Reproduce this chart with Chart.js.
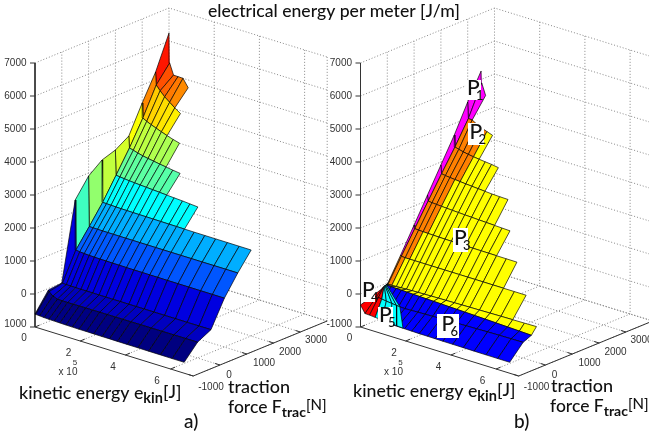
<!DOCTYPE html>
<html><head><meta charset="utf-8">
<style>html,body{margin:0;padding:0;background:#fff;overflow:hidden}canvas{display:block}</style>
<script src="https://cdn.jsdelivr.net/npm/chart.js@4"></script>
</head><body><canvas id="c" width="649" height="441"></canvas>
<script>
// ---------- data (kinetic energy in 1e5 J, force in N, electrical energy in J/m) ----------
const kineticEnergy = [0,.03,.2,.4,.62,.85,1.1,1.37,1.65,1.95,2.27,2.6,2.97,3.3,3.65,4.08,4.55,5.03,5.55,6.07,6.6];
const forceA = [-1000,-500,0,500,1000,1500,2000,2500,3000,3500,4000];
const energyA = [
 [-606,-610,-620,-630,-635,-640,-645,-650,-652,-655,-655,-658,-660,-660,-662,-664,-665,-667,-668,-670,-670],
 [-45,-90,-190,-240,-245,-245,-245,-240,-240,-240,-238,-238,-236,-235,-235,-233,-232,-230,-230,-228,-227],
 [0,-4,-8,-10,-12,-12,-13,-13,-14,-14,-14,-15,-15,-15,-15,-15,-15,-15,-15,-15,-15],
 [2348,839,820,810,800,795,790,790,785,785,780,780,780,778,778,776,776,775,775,774,773],
 [2909,1385,1380,1378,1376,1375,1374,1373,1372,1372,1371,1371,1371,1370,1370,1370,1370,1370,1370,1370,1370],
 [3227,1950,1945,1940,1935,1930,1928,1925,1922,1920,1918,1915,1912,1910,1908,1906,1905,1904,1903,1901,1900],
 [3364,2606,2590,2575,2560,2548,2535,2522,2510,2495,2480,2465,2450,2430,2412],
 [3621,3264,3230,3190,3150,3120,3090,3060,3030,3000,2970],
 [4455,4006,3940,3880,3820,3760,3700,3640,3588],
 [5227,4839,4700,4560,4440,4320,4203],
 [6242,5340,5010,5005,5000,4763]
];
const forceB = [-1000,-500,-190,0,500,1000,1500,2000,2500,3000,3500];
const energyB = [
 [null,null,null,null,null,null,-628,-632,-636,-640,-645,-650,-652,-655,-658,-660,-662,-665,-667,-668,-670],
 [null,null,-230,-250,-270,-290,-310,-318,-312,-305,-298,-292,-286,-280,-272,-264,-256,-248,-240,-236,-233],
 [-103,-80,39,35,30,25,20,12,5,-3,-10,-18,-27,-35,-43,-53,-65,-78,-92,-106,-121],
 [-40,-38,-30,-22,-15,-8,0,5,10,15,20,25,30,35,40,45,52,58,65,72,79],
 [682,650,640,640,640,640,640,640,640,640,640,640,640,640,640,640,640,640,640],
 [1424,1320,1310,1305,1300,1295,1290,1285,1282,1279,1276,1273,1271,1269,1267,1266,1264],
 [2167,1990,1975,1965,1955,1945,1935,1925,1915,1905,1895,1885,1875,1865,1855],
 [2909,2650,2630,2615,2600,2585,2570,2555,2540,2525,2510,2500,2494],
 [3651,3294,3260,3225,3195,3170,3150,3130,3110,3076],
 [4485,3990,3982,3900,3830,3770,3709],
 [5258,4900,4558]
];
// regions of panel b: how many columns of each strip are orange (P2)
const orangeColumns = [0,0,0,2,3,4,4,5,5,0];
const blueStrips = [0,1];
const p4Force = [-1000,-500,-190,0];
const p4Kinetic = [[0,.2,.4,.65],[0,.1,.2,.35],[0,.03,.05,.08],[0,0,0,0]];
const p4Energy = [[-333,-549,-555,-570],[-197,-240,-230,-245],[-103,-80,-60,-30],[-40,-40,-40,-40]];
const p5Force = [-1000,-500,-190,0];
const p5Kinetic = [[.65,.95,1.3,1.6,1.88],[.35,.55,.8,1,1.15],[.08,.1,.13,.16,.2],[0,0,0,0,0]];
const p5Energy = [[-570,-586,-606,-622,-636],[-245,-268,-285,-302,-312],[-30,-10,10,25,39],[-40,-40,-40,-40,-40]];
const energyTicks = [-1000,0,1000,2000,3000,4000,5000,6000,7000];
const kineticTicks = [0,2,4,6];
const forceTicks = [-1000,0,1000,2000,3000];

// ---------- view ----------
const PANEL_A = 0, PANEL_B = 325.5;
const ORIGIN = {x:35, y:327};
const KIN = {max:7, dx:22.6, dy:7};
const FOR = {min:-1000, max:4000, dx:.0268, dy:.011};
const ENE = {min:-1000, max:7000, dy:.033};
function project(off, e, f, z){
  return {
    x: off + ORIGIN.x + e*KIN.dx + (f-FOR.min)*FOR.dx,
    y: ORIGIN.y + e*KIN.dy - (f-FOR.min)*FOR.dy - (z-ENE.min)*ENE.dy
  };
}
function jet(v){
  const t = Math.max(0, Math.min(1, (v+670)/(6242+670)));
  const c = x => Math.round(255*Math.max(0, Math.min(1, x)));
  return `rgb(${c(1.5-Math.abs(4*t-3))},${c(1.5-Math.abs(4*t-2))},${c(1.5-Math.abs(4*t-1))})`;
}
const paint = [];
function face(pts, color){
  paint.push({data:[...pts, pts[0]], showLine:true, pointRadius:0, borderColor:'rgba(0,0,0,.85)', borderWidth:.8, faceColor:color, clip:false, tension:0});
}
function stroke(pts, color, width, dash){
  paint.push({data:pts, showLine:true, pointRadius:0, borderColor:color, borderWidth:width, borderDash:dash||[], clip:false, tension:0});
}
function frame(off){
  const dot = [1,2], grey = '#6a6a6a';
  for(const z of energyTicks){
    stroke([project(off,0,FOR.min,z),project(off,0,FOR.max,z),project(off,KIN.max,FOR.max,z)],grey,.8,dot);
  }
  for(const f of forceTicks.concat(FOR.max)){
    if(f===FOR.min) continue;
    stroke([project(off,KIN.max,f,ENE.min),project(off,0,f,ENE.min),project(off,0,f,ENE.max)],grey,.8,dot);
  }
  for(const e of kineticTicks.concat(KIN.max)){
    if(e===0) continue;
    stroke([project(off,e,FOR.min,ENE.min),project(off,e,FOR.max,ENE.min),project(off,e,FOR.max,ENE.max)],grey,.8,dot);
  }
  const ax = '#333';
  stroke([project(off,0,FOR.min,ENE.max),project(off,0,FOR.min,ENE.min),project(off,KIN.max,FOR.min,ENE.min),project(off,KIN.max,FOR.max,ENE.min)],ax,1);
  for(const z of energyTicks){
    const p = project(off,0,FOR.min,z);
    stroke([{x:p.x-5,y:p.y},p],ax,1);
  }
  for(const e of kineticTicks){ stroke([project(off,e,FOR.min,ENE.min),project(off,e,FOR.min+170,ENE.min)],ax,1); }
  for(const f of forceTicks){ stroke([project(off,KIN.max,f,ENE.min),project(off,KIN.max-.22,f,ENE.min)],ax,1); }
}
function surface(off, forces, energy, colorOf){
  for(let j=forces.length-2;j>=0;j--){
    const up = energy[j+1], lo = energy[j];
    for(let i=0;i<up.length-1;i++){
      if(lo[i]==null||up[i]==null||lo[i+1]==null||up[i+1]==null) continue;
      face([project(off,kineticEnergy[i],forces[j],lo[i]),project(off,kineticEnergy[i+1],forces[j],lo[i+1]),
            project(off,kineticEnergy[i+1],forces[j+1],up[i+1]),project(off,kineticEnergy[i],forces[j+1],up[i])],colorOf(j,i,lo[i]));
    }
  }
}
function patch(off, forces, kin, ene, color){
  for(let j=forces.length-2;j>=0;j--){
    for(let i=0;i<kin[j].length-1;i++){
      face([project(off,kin[j][i],forces[j],ene[j][i]),project(off,kin[j][i+1],forces[j],ene[j][i+1]),
            project(off,kin[j+1][i+1],forces[j+1],ene[j+1][i+1]),project(off,kin[j+1][i],forces[j+1],ene[j+1][i])],color);
    }
  }
}
frame(PANEL_A);
surface(PANEL_A, forceA, energyA, (j,i,v)=>jet(v));
frame(PANEL_B);
surface(PANEL_B, forceB, energyB, (j,i)=>{
  if(blueStrips.includes(j)) return '#0000ff';
  if(j===forceB.length-2) return '#ff00ff';
  if(i===0 && j>=4) return '#ff00ff';
  if(i<orangeColumns[j]) return '#ff8000';
  return '#ffff00';
});
patch(PANEL_B, p4Force, p4Kinetic, p4Energy, '#ff0000');
patch(PANEL_B, p5Force, p5Kinetic, p5Energy, '#00ffff');

// ---------- text ----------
const TICK_FONT = '10px "Liberation Sans"';
const LABEL = '"Lato"';
function run(ctx, parts, x, y){
  for(const [s,size,dy,weight] of parts){
    ctx.font = `${weight||500} ${size}px ${LABEL}`;
    ctx.fillText(s, x, y+(dy||0));
    x += ctx.measureText(s).width;
  }
}
const textPlugin = {
  id:'texts',
  beforeDatasetDraw(chart,args){
    const ds = args.meta._dataset, c = chart.ctx;
    if(!ds.faceColor) return;
    c.save(); c.beginPath();
    args.meta.data.forEach((p,i)=> i? c.lineTo(p.x,p.y):c.moveTo(p.x,p.y));
    c.closePath(); c.fillStyle = ds.faceColor; c.fill(); c.restore();
  },
  afterDatasetsDraw(chart){
    const c = chart.ctx;
    c.save();
    c.textBaseline='middle'; c.textAlign='left'; c.fillStyle='#111';
    run(c,[['electrical energy per meter [J/m]',17.6]],208,11);
    for(const off of [PANEL_A,PANEL_B]){
      c.font=TICK_FONT; c.fillStyle='#333'; c.textAlign='right';
      for(const z of energyTicks){
        const p = project(off,0,FOR.min,z);
        const shown = (z===-1000 && off===PANEL_A) ? '1000' : String(z);
        c.fillText(shown, off+26.5, p.y+.5+(z===-1000?-3:0));
      }
      c.textAlign='center';
      kineticTicks.forEach((e,i)=> c.fillText(String(e), off+[24,68.5,113,157][i], [338,353,367,381][i]));
      c.fillText('x 10', off+68, 372);
      c.font='8px "Liberation Sans"'; c.fillText('5', off+75, 363);
      c.font=TICK_FONT;
      forceTicks.forEach((f,i)=> c.fillText(String(f), off+[211,229,264,290,316][i], [387,375,363.5,352,340.5][i]));
      c.textAlign='left'; c.fillStyle='#111';
    }
    run(c,[['kinetic energy e',17.8],['kin',14.5,5,700],['[J]',17.8,-1]],19,393);
    run(c,[['traction',18]],228,387);
    run(c,[['force F',17.5],['trac',14,5,700],['[N]',15,-2]],228,407);
    run(c,[['a)',19]],184,422);
    run(c,[['kinetic energy e',17.8],['kin',14.5,5,700],['[J]',17.8,-1]],353,391);
    run(c,[['traction',18]],551,386);
    run(c,[['force F',17.5],['trac',14,5,700],['[N]',15,-2]],550,406);
    run(c,[['b)',19]],514,422);
    const boxes = [['P','1',466,80,15,20],['P','2',468,123,16,22],['P','3',453,228,15,24],['P','4',362,282,13,20],['P','5',378,307,15,20],['P','6',437,314,22,24]];
    for(const [a,b,x,y,w,h] of boxes){
      c.fillStyle='#fff'; c.fillRect(x,y,w,h);
      c.fillStyle='#111';
      const x0 = x+(w-15)/2;
      c.font=`500 21px ${LABEL}`; c.fillText(a,x0+1,y+h/2-2);
      c.font=`500 13px ${LABEL}`; c.fillText(b,x0+10,y+h/2+6);
    }
    c.restore();
  }
};
new Chart(document.getElementById('c'),{
  type:'scatter',
  data:{datasets:paint.slice().reverse()},
  options:{
    responsive:false, animation:false, events:[],
    layout:{padding:0},
    plugins:{legend:{display:false},tooltip:{enabled:false},title:{display:false}},
    scales:{
      x:{type:'linear',display:false,min:0,max:649},
      y:{type:'linear',display:false,min:0,max:441,reverse:true}
    }
  },
  plugins:[textPlugin]
});
</script></body></html>
